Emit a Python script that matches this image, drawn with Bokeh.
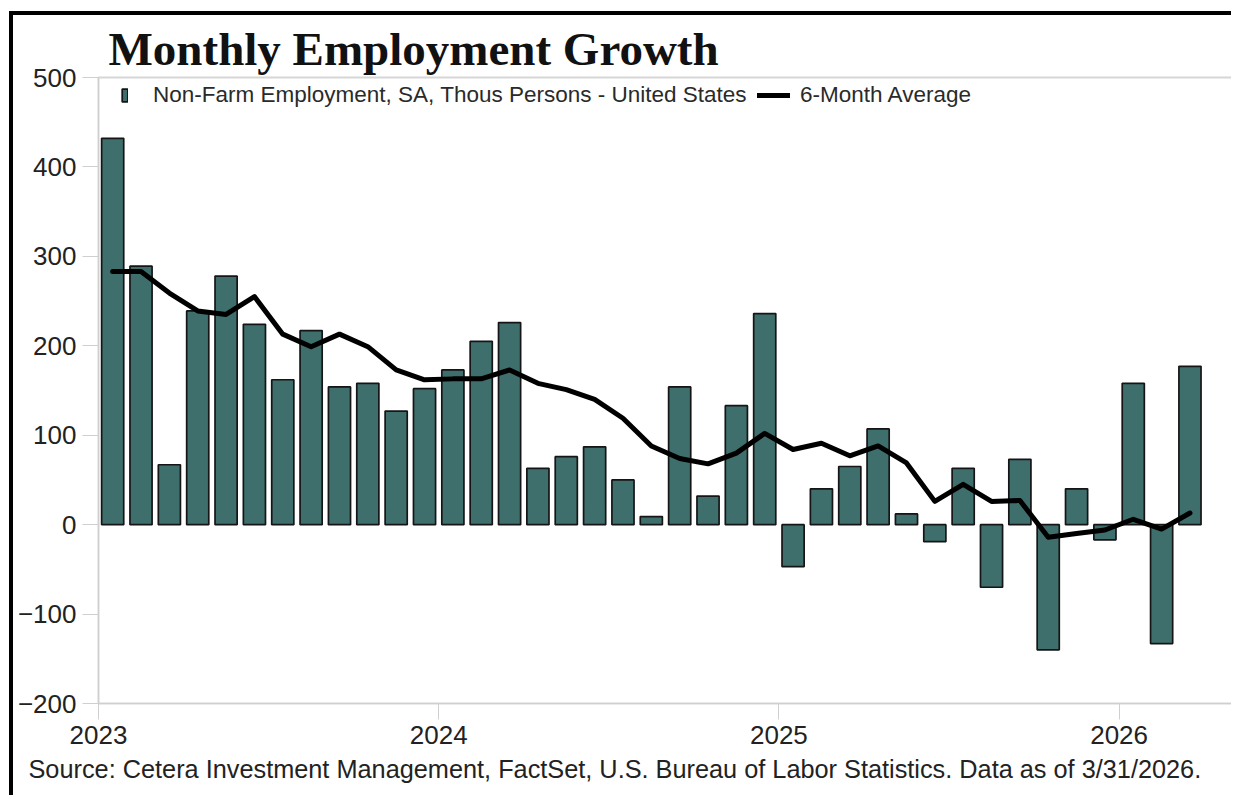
import numpy as np
from bokeh.plotting import figure
from bokeh.models import ColumnDataSource, Legend, LegendItem, FixedTicker, Range1d, Title
from bokeh.embed import file_html
from bokeh.resources import INLINE

# ---- data ----
months = [
    "2023-01", "2023-02", "2023-03", "2023-04", "2023-05", "2023-06",
    "2023-07", "2023-08", "2023-09", "2023-10", "2023-11", "2023-12",
    "2024-01", "2024-02", "2024-03", "2024-04", "2024-05", "2024-06",
    "2024-07", "2024-08", "2024-09", "2024-10", "2024-11", "2024-12",
    "2025-01", "2025-02", "2025-03", "2025-04", "2025-05", "2025-06",
    "2025-07", "2025-08", "2025-09", "2025-10", "2025-11", "2025-12",
    "2026-01", "2026-02", "2026-03",
]
payrolls = [
    432, 289, 67, 239, 278, 224, 162, 217, 154, 158, 127, 152,
    173, 205, 226, 63, 76, 87, 50, 9, 154, 32, 133, 236,
    -47, 40, 65, 107, 12, -19, 63, -70, 73, -140, 40, -17,
    158, -133, 177,
]
avg6 = [
    283, 283, 259, 239, 235, 255, 213, 199, 213, 199, 173, 162,
    163, 163, 173, 158, 151, 140, 119, 88, 74, 68, 80, 102,
    84, 91, 77, 88, 69, 26, 45, 26, 27, -14, -10, -6,
    6, -5, 13,
]
year_labels = ["2023", "2024", "2025", "2026"]
y_ticks = [-200, -100, 0, 100, 200, 300, 400, 500]

bar_label = "Non-Farm Employment, SA, Thous Persons - United States"
line_label = "6-Month Average"
title_text = "Monthly Employment Growth"
source_text = ("Source: Cetera Investment Management, FactSet, U.S. Bureau  of Labor "
               "Statistics. Data as of 3/31/2026.")

# month index -> mid-month position; year start at multiples of 12
xpos = np.arange(len(months)) + 0.5
src = ColumnDataSource(dict(x=xpos, v=payrolls, a=avg6, m=months))

BAR = "#3f6f6c"
FONT = "Liberation Sans"

p = figure(width=1222, height=784, output_backend="svg", toolbar_location=None,
           x_range=Range1d(0, 40), y_range=Range1d(-200, 500),
           min_border_left=85, min_border_right=3, min_border_top=62, min_border_bottom=96)
p.styles = {"border-top": "4px solid black", "border-left": "4px solid black",
            "margin-top": "11px", "margin-left": "9px"}
p.background_fill_color = "white"
p.border_fill_color = "white"
p.outline_line_color = "#d6d6d6"
p.outline_line_width = 2
p.grid.visible = False

r_bar = p.vbar(x="x", top="v", bottom=0, width=0.78, source=src,
               fill_color=BAR, line_color="#151515", line_width=1.7)
r_line = p.line(x="x", y="a", source=src, line_color="black", line_width=5,
                line_join="round", line_cap="round")

# y axis
ya = p.yaxis[0]
ya.ticker = FixedTicker(ticks=y_ticks)
ya.axis_line_color = "#cfcfcf"
ya.major_tick_line_color = "#cfcfcf"
ya.major_tick_out = 16
ya.major_tick_in = 0
ya.minor_tick_line_color = None
ya.major_label_standoff = 6
ya.major_label_text_font = FONT
ya.major_label_text_font_size = "26px"
ya.major_label_text_color = "#222222"

# x axis
xa = p.xaxis[0]
xa.ticker = FixedTicker(ticks=[0, 12, 24, 36])
xa.major_label_overrides = {0: year_labels[0], 12: year_labels[1],
                            24: year_labels[2], 36: year_labels[3]}
xa.axis_line_color = "#cfcfcf"
xa.major_tick_line_color = "#cfcfcf"
xa.major_tick_out = 16
xa.major_tick_in = 0
xa.minor_tick_line_color = None
xa.major_label_standoff = 6
xa.major_label_text_font = FONT
xa.major_label_text_font_size = "26px"
xa.major_label_text_color = "#222222"

# legends
common = dict(padding=0, margin=0, border_line_color=None, background_fill_alpha=0,
              label_text_font=FONT, label_text_font_size="22.5px",
              label_text_color="#2a2a2a", glyph_height=16)
leg1 = Legend(items=[LegendItem(label=bar_label, renderers=[r_bar])],
              location=(23, 595), glyph_width=7, label_standoff=25, **common)
leg2 = Legend(items=[LegendItem(label=line_label, renderers=[r_line])],
              location=(659, 595), glyph_width=33, label_standoff=10, **common)
p.add_layout(leg1)
p.add_layout(leg2)

# title and source
p.title.visible = False
p.add_layout(Title(text=title_text, align="left", offset=10, standoff=6,
                   text_font="Liberation Serif", text_font_style="bold",
                   text_font_size="47px", text_color="#111111"), "above")
p.add_layout(Title(text=source_text, align="left", offset=-70, standoff=12,
                   text_font=FONT, text_font_style="normal",
                   text_font_size="25.3px", text_color="#222222"), "below")

open("out.html", "w").write(file_html(p, INLINE))
